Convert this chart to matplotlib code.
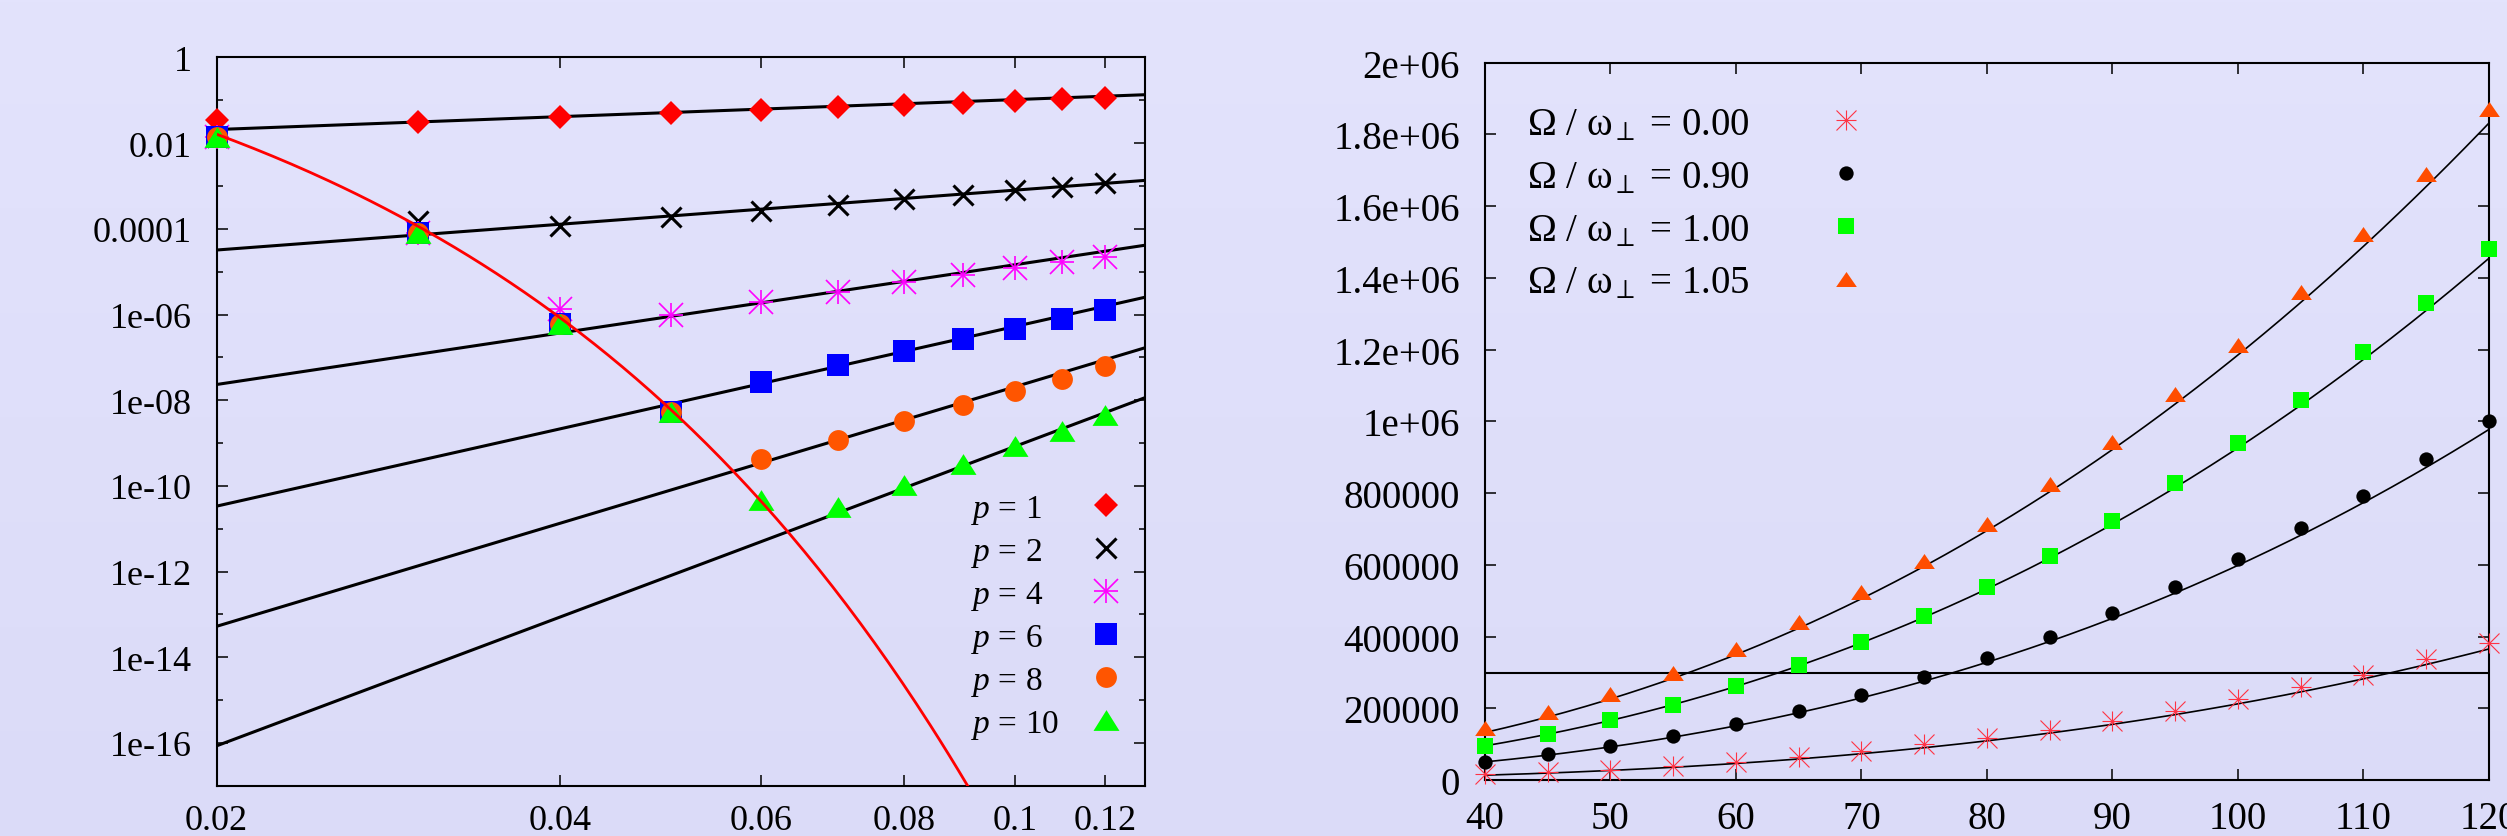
import numpy as np
import matplotlib
matplotlib.use("Agg")
import matplotlib.pyplot as plt
from matplotlib.path import Path
from matplotlib.legend_handler import HandlerTuple
from matplotlib.ticker import FixedLocator, FixedFormatter, NullLocator, NullFormatter

plt.rcParams['font.family'] = ['Liberation Serif', 'DejaVu Serif']
plt.rcParams['mathtext.fontset'] = 'custom'
plt.rcParams['mathtext.rm'] = 'Liberation Serif'
plt.rcParams['mathtext.it'] = 'Liberation Serif:italic'

# ---------------- left panel data ----------------
h_vals = [0.02, 0.03, 0.04, 0.05, 0.06, 0.07, 0.08, 0.09, 0.10, 0.11, 0.12]
err_p1 = [0.0355, 0.0309, 0.0398, 0.0501, 0.0596, 0.0687, 0.0766, 0.0867, 0.0951, 0.1057, 0.1135]
err_p2 = [0.0138, 1.55e-4, 1.19e-4, 1.9e-4, 2.66e-4, 3.63e-4, 5.0e-4, 6.3e-4, 8.1e-4, 9.7e-4, 1.17e-3]
err_p4 = [0.0138, 7.9e-5, 1.35e-6, 1.0e-6, 2.0e-6, 3.4e-6, 5.7e-6, 8.5e-6, 1.23e-5, 1.72e-5, 2.24e-5]
err_p6 = [0.0138, 7.9e-5, 6.0e-7, 5.2e-9, 2.63e-8, 6.6e-8, 1.38e-7, 2.75e-7, 4.6e-7, 7.8e-7, 1.26e-6]
err_p8 = [0.0138, 7.9e-5, 6.0e-7, 5.2e-9, 4.3e-10, 1.2e-9, 3.35e-9, 7.9e-9, 1.68e-8, 3.2e-8, 6.2e-8]
err_p10 = [0.0138, 7.9e-5, 6.0e-7, 5.2e-9, 4.6e-11, 3.2e-11, 1.05e-10, 3.2e-10, 8.7e-10, 1.95e-9, 4.4e-9]
orders = [1, 2, 4, 6, 8, 10]
order_coef = [1.04, 0.080, 0.145, 0.524, 2.05, 8.3]     # y = c * h^p
red_log_intercept = 2.5      # log10 y = a - b*h
red_log_slope = 214.5
left_xticks = [0.02, 0.04, 0.06, 0.08, 0.1, 0.12]
left_xlabels = ['0.02', '0.04', '0.06', '0.08', '0.1', '0.12']
left_yticks = [1, 1e-2, 1e-4, 1e-6, 1e-8, 1e-10, 1e-12, 1e-14, 1e-16]
left_ylabels = ['1', '0.01', '0.0001', '1e-06', '1e-08', '1e-10', '1e-12', '1e-14', '1e-16']
left_yminor = [1e-1, 1e-3, 1e-5, 1e-7, 1e-9, 1e-11, 1e-13, 1e-15, 1e-17]
left_labels = ['$p$ = 1', '$p$ = 2', '$p$ = 4', '$p$ = 6', '$p$ = 8', '$p$ = 10']

# ---------------- right panel data ----------------
n_vals = [40, 45, 50, 55, 60, 65, 70, 75, 80, 85, 90, 95, 100, 105, 110, 115, 120]
w000 = [0.0167, 0.0232, 0.0288, 0.040, 0.051, 0.066, 0.080, 0.1005, 0.1163, 0.1395,
        0.1656, 0.1935, 0.226, 0.2587, 0.294, 0.3377, 0.3815]
w090 = [0.052, 0.0726, 0.0957, 0.1237, 0.156, 0.1935, 0.238, 0.2866, 0.3396, 0.398,
        0.465, 0.5378, 0.6168, 0.7025, 0.7935, 0.894, 1.001]
w100 = [0.0958, 0.130, 0.168, 0.211, 0.263, 0.322, 0.386, 0.4586, 0.538, 0.626,
        0.7237, 0.828, 0.9397, 1.0605, 1.194, 1.331, 1.480]
w105 = [0.145, 0.189, 0.240, 0.2977, 0.3656, 0.440, 0.524, 0.612, 0.714, 0.826,
        0.9425, 1.0754, 1.212, 1.361, 1.522, 1.6885, 1.870]
scale_M = 1e6
fit_a40 = [0.014, 0.051, 0.0958, 0.133]     # value at n=40 (millions)
fit_exp = [2.97, 2.688, 2.476, 2.387]
threshold = 300000
right_xticks = [40, 50, 60, 70, 80, 90, 100, 110, 120]
right_yticks = [0, 200000, 400000, 600000, 800000, 1000000, 1200000, 1400000, 1600000, 1800000, 2000000]
right_ylabels = ['0', '200000', '400000', '600000', '800000', '1e+06', '1.2e+06',
                 '1.4e+06', '1.6e+06', '1.8e+06', '2e+06']
right_labels = ['Ω / ω$_{\\perp}$ = 0.00', 'Ω / ω$_{\\perp}$ = 0.90',
                'Ω / ω$_{\\perp}$ = 1.00', 'Ω / ω$_{\\perp}$ = 1.05']

# ---------------- figure ----------------
fig = plt.figure(figsize=(25.07, 8.37), dpi=100)
bg = fig.add_axes([0, 0, 1, 1], zorder=-10)
top = np.array([227, 227, 252]) / 255.0
bot = np.array([219, 219, 248]) / 255.0
t = np.linspace(0, 1, 256)[:, None, None]
grad = top[None, None, :] * (1 - t) + bot[None, None, :] * t
bg.imshow(grad, aspect='auto', extent=[0, 1, 0, 1], origin='upper')
bg.set_axis_off()

def tri_path(ratio):
    return Path([(0, ratio), (-1, -ratio), (1, -ratio), (0, ratio)],
                [Path.MOVETO, Path.LINETO, Path.LINETO, Path.CLOSEPOLY])

def style_axes(ax, fs, xpad, ypad):
    for s in ax.spines.values():
        s.set_linewidth(1.5)
    ax.tick_params(which='both', direction='in', top=True, right=True, labelsize=fs,
                   width=1.1, colors='black')
    ax.tick_params(which='major', length=8)
    ax.tick_params(which='minor', length=4.3)
    ax.tick_params(axis='x', pad=xpad)
    ax.tick_params(axis='y', pad=ypad)

# ---------- left ----------
ax1 = fig.add_axes([0.08636, 0.0601, 0.37036, 0.87002])
ax1.set_facecolor('none')
ax1.set_xscale('log')
ax1.set_yscale('log')
ax1.set_xlim(0.02, 0.13)
ax1.set_ylim(1e-17, 1)

hh = np.geomspace(0.02, 0.13, 200)
for p, c in zip(orders, order_coef):
    ax1.plot(hh, c * hh ** p, color='black', lw=2.2, zorder=2)

mk = dict(ls='none', clip_on=False, zorder=3)
h1, = ax1.plot(h_vals, err_p1, marker='D', ms=12.7, mew=0, color='#FF0000', **mk)
h2, = ax1.plot(h_vals, err_p2, marker='x', ms=14.5, mew=2.2, color='black', **mk)
h4a, = ax1.plot(h_vals, err_p4, marker='+', ms=17.5, mew=1.2, color='#FF00FF', **mk)
h4b, = ax1.plot(h_vals, err_p4, marker='x', ms=17.5, mew=1.2, color='#FF00FF', **mk)
h6, = ax1.plot(h_vals, err_p6, marker='s', ms=15.8, mew=0, color='#0000FF', **mk)
h8, = ax1.plot(h_vals, err_p8, marker='o', ms=15.0, mew=0, color='#FF5500', **mk)
h10, = ax1.plot(h_vals, err_p10, marker=tri_path(0.8), ms=18.7, mew=0, color='#00FF00', **mk)
ax1.plot(hh, 10 ** (red_log_intercept - red_log_slope * hh), color='#FF0000', lw=2.0, zorder=4)

ax1.xaxis.set_major_locator(FixedLocator(left_xticks))
ax1.xaxis.set_major_formatter(FixedFormatter(left_xlabels))
ax1.xaxis.set_minor_locator(NullLocator())
ax1.yaxis.set_major_locator(FixedLocator(left_yticks))
ax1.yaxis.set_major_formatter(FixedFormatter(left_ylabels))
ax1.yaxis.set_minor_locator(FixedLocator(left_yminor))
ax1.yaxis.set_minor_formatter(NullFormatter())
style_axes(ax1, 26, 13, 18)

leg1 = ax1.legend([h1, h2, (h4a, h4b), h6, h8, h10], left_labels,
                  handler_map={tuple: HandlerTuple(ndivide=1)},
                  loc='upper left', bbox_to_anchor=(0.8126, 0.4024),
                  frameon=False, markerfirst=False, fontsize=24,
                  handlelength=1.0, handletextpad=0.9, labelspacing=0.3,
                  borderpad=0, borderaxespad=0)

# ---------- right ----------
ax2 = fig.add_axes([0.59234, 0.06667, 0.4004, 0.85723])
ax2.set_facecolor('none')
ax2.set_xlim(40, 120)
ax2.set_ylim(0, 2e6)
nn = np.linspace(40, 120, 300)
for a, b in zip(fit_a40, fit_exp):
    ax2.plot(nn, a * scale_M * (nn / 40.0) ** b, color='black', lw=1.2, zorder=2)
ax2.axhline(threshold, color='black', lw=1.5, zorder=2)

w000v = np.array(w000) * scale_M
w090v = np.array(w090) * scale_M
w100v = np.array(w100) * scale_M
w105v = np.array(w105) * scale_M
r0a, = ax2.plot(n_vals, w000v, marker='+', ms=15.0, mew=0.8, color='#FF3344', **mk)
r0b, = ax2.plot(n_vals, w000v, marker='x', ms=15.0, mew=0.8, color='#FF3344', **mk)
r1, = ax2.plot(n_vals, w090v, marker='o', ms=10.3, mew=0, color='black', **mk)
r2, = ax2.plot(n_vals, w100v, marker='s', ms=11.9, mew=0, color='#00FF00', **mk)
r3, = ax2.plot(n_vals, w105v, marker=tri_path(0.725), ms=14.9, mew=0, color='#FF4D00', **mk)

ax2.xaxis.set_major_locator(FixedLocator(right_xticks))
ax2.yaxis.set_major_locator(FixedLocator(right_yticks))
ax2.yaxis.set_major_formatter(FixedFormatter(right_ylabels))
style_axes(ax2, 28, 14, 18)

leg2 = ax2.legend([(r0a, r0b), r1, r2, r3], right_labels,
                  handler_map={tuple: HandlerTuple(ndivide=1)},
                  loc='upper left', bbox_to_anchor=(0.0415, 0.9397),
                  frameon=False, markerfirst=False, fontsize=28,
                  handlelength=1.0, handletextpad=2.0, labelspacing=0.41,
                  borderpad=0, borderaxespad=0)

# left-align legend texts while keeping markers in one column
fig.canvas.draw()
renderer = fig.canvas.get_renderer()
for leg in (leg1, leg2):
    col = leg._legend_handle_box.get_children()[0]
    items = col.get_children()
    widths = [tx.get_window_extent(renderer).width for tx in leg.get_texts()]
    mw = max(widths)
    for it, w in zip(items, widths):
        it.sep += (mw - w) * 72.0 / fig.dpi

fig.savefig('out.png', dpi=100)
